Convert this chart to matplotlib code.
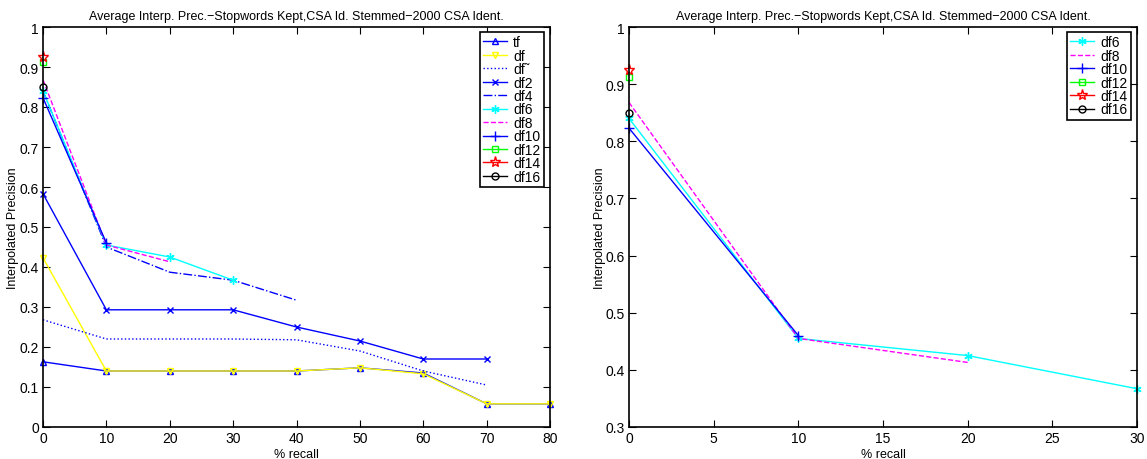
import matplotlib
matplotlib.use("Agg")
import matplotlib.pyplot as plt

recall = [0, 10, 20, 30, 40, 50, 60, 70, 80]

tf = [0.163, 0.140, 0.140, 0.140, 0.140, 0.148, 0.135, 0.058, 0.058]
df = [0.423, 0.140, 0.140, 0.140, 0.140, 0.148, 0.133, 0.058, 0.058]
df_tilde = [0.268, 0.220, 0.220, 0.220, 0.218, 0.190, 0.140, 0.105]
df2 = [0.583, 0.293, 0.293, 0.293, 0.250, 0.215, 0.170, 0.170]
df4 = [0.840, 0.450, 0.387, 0.367, 0.317]
df6 = [0.840, 0.455, 0.425, 0.367]
df8 = [0.868, 0.455, 0.413]
df10 = [0.823, 0.460]
df12 = [0.912]
df14 = [0.925]
df16 = [0.850]

title = "Average Interp. Prec.\u2212Stopwords Kept,CSA Id. Stemmed\u22122000 CSA Ident."

series = [
    ("tf", tf, dict(color="blue", ls="-", marker="^", mfc="none", ms=5)),
    ("df", df, dict(color="yellow", ls="-", marker="v", mfc="none", ms=5)),
    ("df\u02dc", df_tilde, dict(color="blue", ls=":", marker=None)),
    ("df2", df2, dict(color="blue", ls="-", marker="x", ms=4)),
    ("df4", df4, dict(color="blue", ls="-.", marker=None)),
    ("df6", df6, dict(color="cyan", ls="-", marker=(6, 2, 0), ms=6)),
    ("df8", df8, dict(color="magenta", ls="--", marker=None)),
    ("df10", df10, dict(color="blue", ls="-", marker="+", ms=7)),
    ("df12", df12, dict(color="lime", ls="-", marker="s", mfc="none", ms=5)),
    ("df14", df14, dict(color="red", ls="-", marker="*", mfc="none", ms=8)),
    ("df16", df16, dict(color="black", ls="-", marker="o", mfc="none", ms=5)),
]

plt.rcParams["font.family"] = ["Liberation Sans", "DejaVu Sans"]
fig = plt.figure(figsize=(11.47, 4.6), dpi=100)
W, H = 1147, 460
ax1 = fig.add_axes([43 / W, 1 - 428 / H, (550 - 43) / W, 400 / H])
ax2 = fig.add_axes([629 / W, 1 - 428 / H, (1137 - 629) / W, 400 / H])


def style(ax):
    ax.tick_params(direction="in", top=True, right=True, labelsize=10, length=5, width=0.8, pad=3)
    for s in ax.spines.values():
        s.set_linewidth(1.2)
        s.set_color("black")
    ax.set_xlabel("% recall", fontsize=9, labelpad=2)
    ax.set_ylabel("Interpolated Precision", fontsize=9, labelpad=0)
    ax.set_title(title, fontsize=9, pad=6)


def legend(ax):
    leg = ax.legend(loc="upper right", fontsize=10, handlelength=1.7, labelspacing=-0.04,
                    borderpad=0.25, handletextpad=0.45, fancybox=False, framealpha=1,
                    edgecolor="black", bbox_to_anchor=(0.988, 0.988), borderaxespad=0)
    leg.get_frame().set_linewidth(1.2)


for name, vals, kw in series:
    ax1.plot(recall[:len(vals)], vals, label=name, lw=1, clip_on=False, **kw)
ax1.set_xlim(0, 80)
ax1.set_ylim(0, 1)
ax1.set_xticks(range(0, 81, 10))
ax1.set_yticks([0, 0.1, 0.2, 0.3, 0.4, 0.5, 0.6, 0.7, 0.8, 0.9, 1])
ax1.set_yticklabels(["0", "0.1", "0.2", "0.3", "0.4", "0.5", "0.6", "0.7", "0.8", "0.9", "1"])
style(ax1)
legend(ax1)

for name, vals, kw in series[5:]:
    ax2.plot(recall[:len(vals)], vals, label=name, lw=1, clip_on=False, **kw)
ax2.set_xlim(0, 30)
ax2.set_ylim(0.3, 1)
ax2.set_xticks(range(0, 31, 5))
ax2.set_yticks([0.3, 0.4, 0.5, 0.6, 0.7, 0.8, 0.9, 1])
ax2.set_yticklabels(["0.3", "0.4", "0.5", "0.6", "0.7", "0.8", "0.9", "1"])
style(ax2)
legend(ax2)

fig.savefig("out.png", dpi=100)
